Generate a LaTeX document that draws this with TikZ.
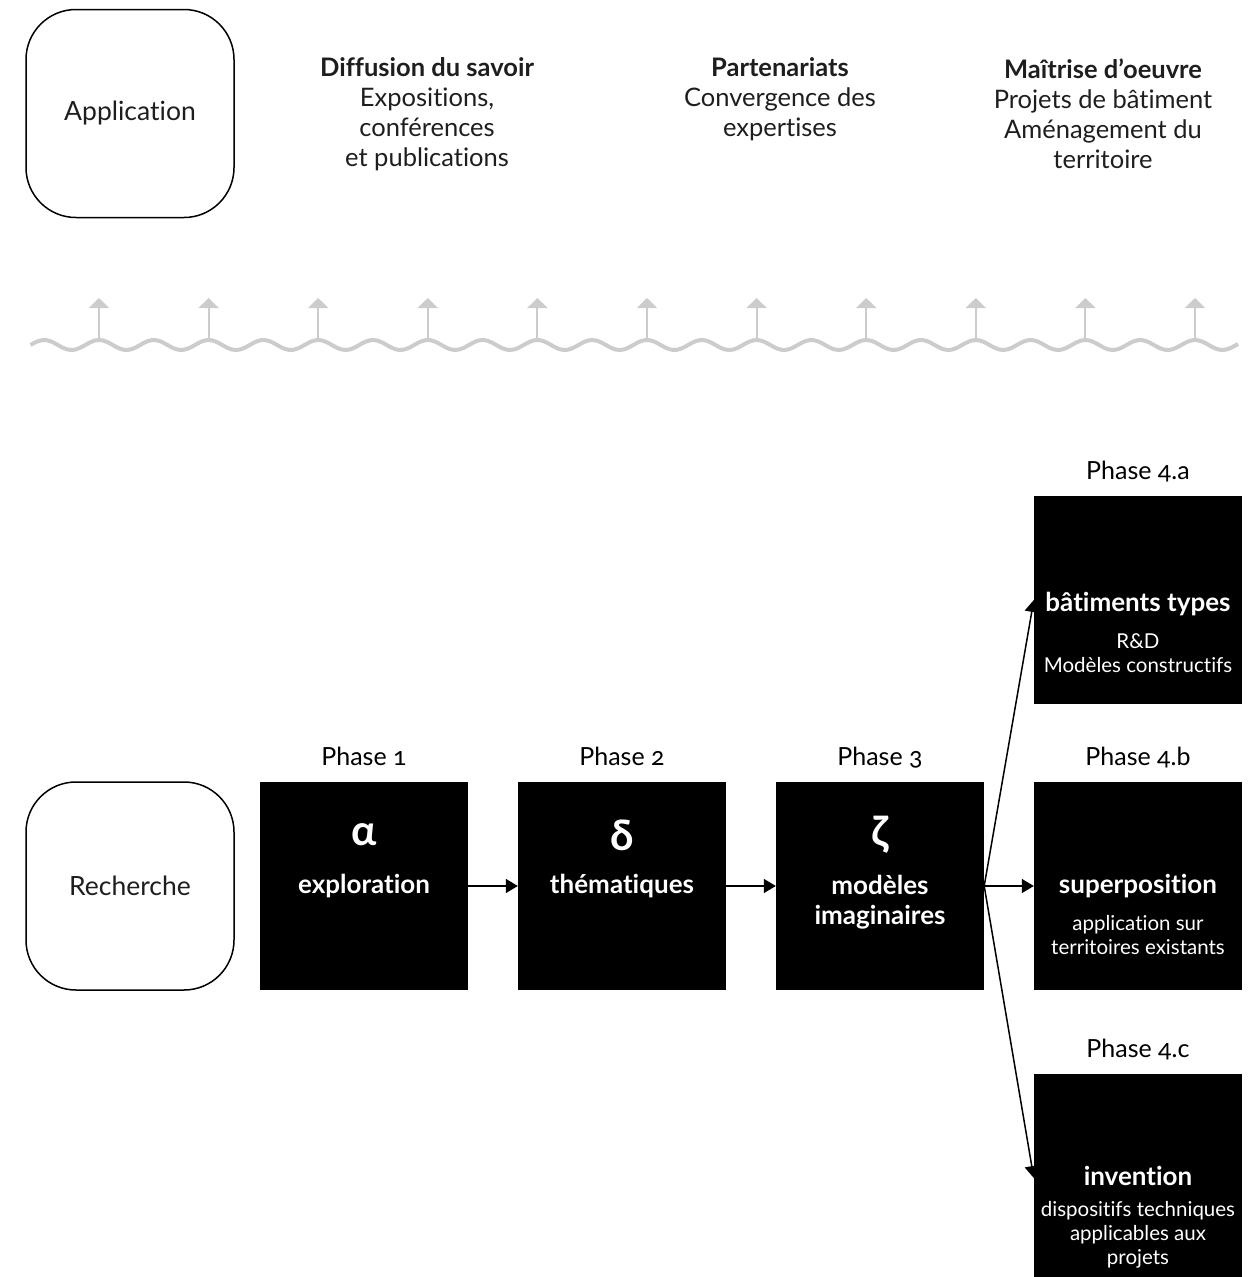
\documentclass[tikz,border=0pt]{standalone}
\usepackage{fontspec}
\setmainfont{Lato}[Numbers=OldStyle,Ligatures={NoCommon}]
\usetikzlibrary{arrows.meta,positioning}
\definecolor{waveGray}{HTML}{CCCCCC}
\definecolor{inkDark}{HTML}{1E1E1E}

\begin{document}
\begin{tikzpicture}[x=1pt,y=-1pt,
  roundbox/.style={draw,line width=1.5pt,rounded corners=50pt,minimum width=208pt,
                   minimum height=208pt,text=inkDark,font=\fontsize{26.5}{30}\selectfont},
  blk/.style={fill=black,minimum width=208pt,minimum height=208pt,inner sep=0pt},
  ttl/.style={text=white,inner sep=0pt,align=center,font=\bfseries\fontsize{26}{30}\selectfont},
  sym/.style={text=white,inner sep=0pt,font=\bfseries\fontsize{42}{44}\selectfont},
  sub/.style={text=white,inner sep=0pt,align=center,font=\fontsize{20.5}{24}\selectfont},
  phase/.style={inner sep=0pt,text depth=0pt,font=\fontsize{25}{28}\selectfont},
  head/.style={align=center,text=inkDark,font=\fontsize{25.5}{30}\selectfont},
  arr/.style={-{Triangle[length=12pt,width=14pt]},line width=1.5pt},
  up/.style={-{Triangle[length=10pt,width=20pt]},waveGray,line width=2pt}
]
  \useasboundingbox (0,0) rectangle (1249,1277);

  % Application level
  \node[roundbox] (app) at (130,113.5) {Application};
  \node[head] (diff) at (427,114) {\textbf{Diffusion du savoir}\\Expositions,\\conférences\\et publications};
  \node[head] (part) at (780,99)  {\textbf{Partenariats}\\Convergence des\\expertises};
  \node[head] (moe)  at (1103,114) {\textbf{Maîtrise d'oeuvre}\\Projets de bâtiment\\Aménagement du\\territoire};

  % Wave with upward arrows
  \draw[waveGray,line width=4pt] plot[domain=30.5:1238,samples=300,smooth]
        (\x,{345-5*sin((\x-30.5)*6.5693)});
  \foreach \i in {0,...,10}{
    \coordinate (w\i) at ({99+109.6*\i},340);
    \coordinate (t\i) at ({99+109.6*\i},298);
    \draw[up] (w\i) -- (t\i);
  }

  % Research level
  \node[roundbox] (rech) at (130,886) {Recherche};

  \node[blk] (p1) at (364,886) {};
  \node[blk] (p2) at (622,886) {};
  \node[blk] (p3) at (880,886) {};
  \node[blk] (p4a) at (1138,600) {};
  \node[blk] (p4b) at (1138,886) {};
  \node[blk] (p4c) at (1138,1178) {};

  \node[phase,above=16pt of p1]  {Phase 1};
  \node[phase,above=16pt of p2]  {Phase 2};
  \node[phase,above=16pt of p3]  {Phase 3};
  \node[phase,above=16pt of p4a] {Phase 4.a};
  \node[phase,above=16pt of p4b] {Phase 4.b};
  \node[phase,above=16pt of p4c] {Phase 4.c};

  \node[sym] at ([yshift=51pt]p1.center) {α};
  \node[ttl] (t1) at (p1.center) {exploration};
  \node[sym] at ([yshift=51pt]p2.center) {δ};
  \node[ttl] (t2) at (p2.center) {thématiques};
  \node[sym] at ([yshift=51pt]p3.center) {ζ};
  \node[ttl] (t3) at ([yshift=-16pt]p3.center) {modèles\\imaginaires};

  \node[ttl] (t4a) at ([yshift=-4pt]p4a.center) {bâtiments types};
  \node[sub,below=17pt of t4a] {R\&D\\Modèles constructifs};
  \node[ttl] (t4b) at (p4b.center) {superposition};
  \node[sub,below=17pt of t4b] {application sur\\territoires existants};
  \node[ttl] (t4c) at ([yshift=2pt]p4c.center) {invention};
  \node[sub,below=15pt of t4c] {dispositifs techniques\\applicables aux\\projets};

  \draw[arr] (p1) -- (p2);
  \draw[arr] (p2) -- (p3);
  \draw[arr] (p3.east) -- (p4a.west);
  \draw[arr] (p3.east) -- (p4b.west);
  \draw[arr] (p3.east) -- (p4c.west);
\end{tikzpicture}
\end{document}
